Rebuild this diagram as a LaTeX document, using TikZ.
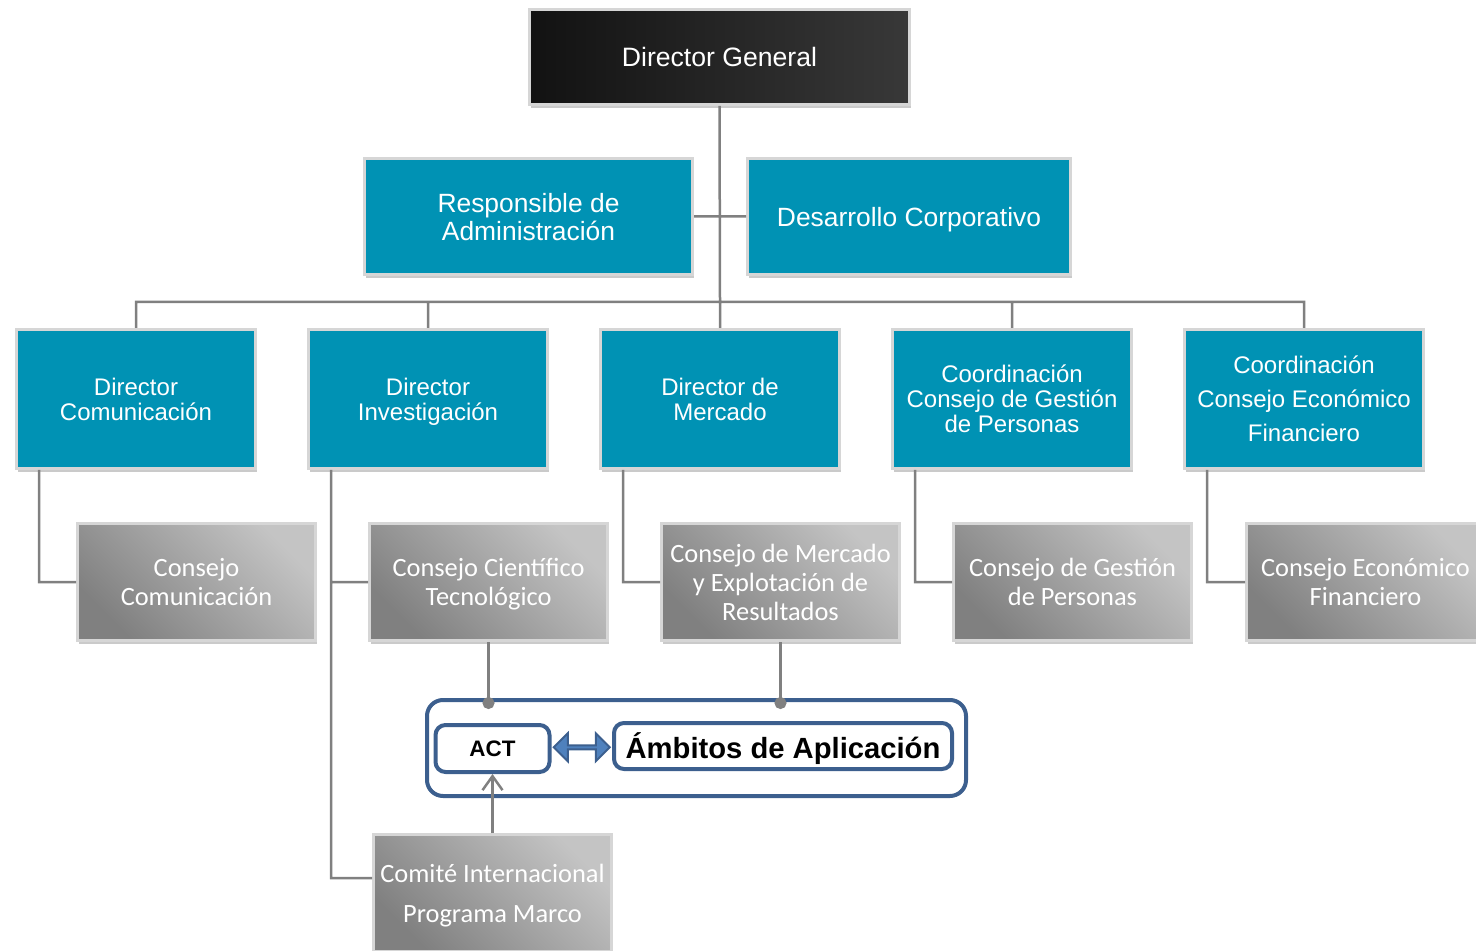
\documentclass[tikz,border=0pt]{standalone}
\usepackage{fontspec}
\setmainfont{Liberation Sans}
\newfontfamily\calibri{Carlito}
\usetikzlibrary{shadows,shapes.arrows,arrows.meta,calc}

\definecolor{orgteal}{RGB}{0,146,180}
\definecolor{boxrim}{RGB}{214,214,214}
\definecolor{linkgray}{RGB}{128,128,128}
\definecolor{actblue}{RGB}{60,95,142}
\definecolor{arrowfill}{RGB}{79,129,189}

\tikzset{
  orgbox/.style={rectangle, draw=boxrim, line width=1.5pt, text=white, align=center, inner sep=2pt,
    text depth=0pt, drop shadow={shadow xshift=0.6pt, shadow yshift=-1.6pt, opacity=0.35, fill=black!60}},
  topbox/.style={orgbox, left color=black!93, right color=black!78, minimum width=190pt, minimum height=47.5pt,
    font=\fontsize{13.3}{14}\selectfont},
  tealbox/.style={orgbox, fill=orgteal, minimum width=119.5pt, minimum height=69.5pt,
    font=\fontsize{12}{12.5}\selectfont},
  widebox/.style={tealbox, minimum height=58pt, font=\fontsize{13.2}{14}\selectfont},
  graybox/.style={orgbox, top color=black!23, bottom color=black!50, shading angle=-45,
    minimum width=119pt, minimum height=58.5pt, font=\calibri\fontsize{13.2}{14.5}\selectfont},
  link/.style={draw=linkgray, line width=1.25pt},
  groupbox/.style={rectangle, rounded corners=8pt, draw=actblue, line width=2pt,
    minimum width=269.5pt, minimum height=48pt},
  actbox/.style={rectangle, rounded corners=5pt, draw=actblue, line width=2pt, fill=white, inner sep=1pt,
    text depth=0pt},
  dblarrow/.style={double arrow, draw=actblue, line width=1pt, fill=arrowfill, inner sep=0pt,
    minimum width=14pt, minimum height=28pt, double arrow head extend=3pt}
}

\newcommand{\tn}{\node[tealbox]}
\newcommand{\gn}{\node[graybox]}

\begin{document}
\begin{tikzpicture}[x=0.5pt, y=-0.5pt]
  \path[use as bounding box, clip] (0,0) rectangle (1476,951);

  % top of the chart
  \node[topbox] (dg) at (719.5,57) {Director General};
  \node[widebox, minimum width=164pt] (adm) at (528.5,216.5) {Responsible de\\Administración};
  \node[widebox, minimum width=161.5pt] (dcorp) at (909,216.5) {Desarrollo Corporativo};

  % directors
  \tn (dcom) at (136,399) {Director\\Comunicación};
  \tn (dinv) at (428,399) {Director\\Investigación};
  \tn (dmer) at (720,399) {Director de\\Mercado};
  \tn (cper) at (1012,399) {Coordinación\\Consejo de Gestión\\de Personas};
  \node[tealbox, font=\fontsize{12}{17}\selectfont] (cfin) at (1304,399) {Coordinación\\Consejo Económico\\Financiero};

  % councils
  \gn (gcom) at (196.5,582) {Consejo\\Comunicación};
  \gn (gcien) at (488.5,582) {Consejo Científico\\Tecnológico};
  \gn (gmer) at (780.5,582) {Consejo de Mercado\\y Explotación de\\Resultados};
  \gn (gper) at (1072.5,582) {Consejo de Gestión\\de Personas};
  \gn (gfin) at (1365.5,582) {Consejo Económico\\Financiero};
  \node[graybox, font=\calibri\fontsize{13.2}{20}\selectfont] (cim) at (492.5,893) {Comité Internacional\\Programa Marco};

  % ACT group
  \node[groupbox] (grp) at (696.5,748) {};
  \node[actbox, minimum width=57pt, minimum height=23.5pt, font=\bfseries\fontsize{11.2}{12}\selectfont] (act) at (492.5,748.5) {ACT};
  \node[actbox, minimum width=169pt, minimum height=23pt, font=\bfseries\fontsize{14.6}{15}\selectfont] (amb) at (783,746) {Ámbitos de Aplicación};
  \node[dblarrow] (lnk) at ($(act.east)!0.5!(amb.west)$) {};

  \coordinate (bus) at (720,302);
  \coordinate (dotA) at (488.5,709);
  \coordinate (dotB) at (780.5,709);

  \draw[link]
    (dg.south) -- (bus)
    (adm.east) -- (dcorp.west)
    (bus) -| (dcom.north)
    (bus) -| (dinv.north)
    (bus) -- (dmer.north)
    (bus) -| (cper.north)
    (bus) -| (cfin.north)
    ([xshift=12pt]dcom.south west) |- (gcom.west)
    ([xshift=12pt]dinv.south west) |- (gcien.west)
    ([xshift=12pt]dinv.south west) |- ([yshift=7.5pt]cim.west)
    ([xshift=12pt]dmer.south west) |- (gmer.west)
    ([xshift=12pt]cper.south west) |- (gper.west)
    ([xshift=12pt]cfin.south west) |- (gfin.west)
    ;
  \draw[link, -{Circle[length=6pt]}] (gcien.south) -- (dotA);
  \draw[link, -{Circle[length=6pt]}] (gmer.south) -- (dotB);
  \draw[link, -{Straight Barb[length=7pt, width=10pt]}] (cim.north) -- (act.south);
\end{tikzpicture}
\end{document}
